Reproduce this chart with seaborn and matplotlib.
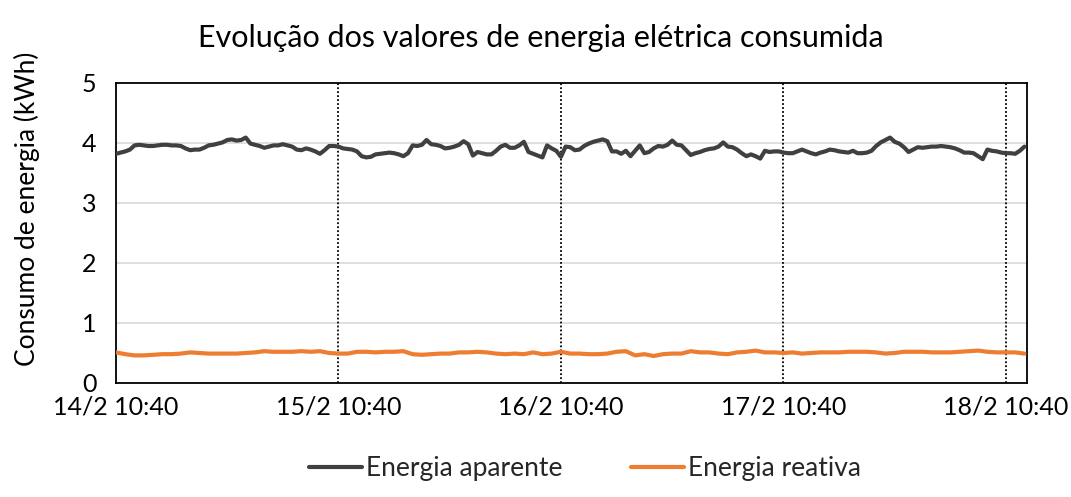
import matplotlib
matplotlib.use("Agg")
import matplotlib.pyplot as plt
import matplotlib.ticker as mticker
import matplotlib.dates as mdates
import seaborn as sns
import pandas as pd

# Leituras de 30 em 30 min (energia aparente) a partir de 14/2 10:40
aparente = [
    3.82, 3.84, 3.86, 3.89, 3.96, 3.97, 3.96, 3.95, 3.95, 3.96,
    3.97, 3.97, 3.96, 3.96, 3.95, 3.91, 3.88, 3.89, 3.89, 3.92,
    3.96, 3.97, 3.99, 4.01, 4.05, 4.06, 4.04, 4.05, 4.09, 3.99,
    3.97, 3.95, 3.92, 3.94, 3.96, 3.96, 3.98, 3.96, 3.94, 3.89,
    3.88, 3.91, 3.89, 3.86, 3.82, 3.88, 3.95, 3.95, 3.94, 3.91,
    3.90, 3.89, 3.86, 3.78, 3.76, 3.77, 3.81, 3.82, 3.83, 3.84,
    3.83, 3.81, 3.78, 3.83, 3.96, 3.95, 3.97, 4.05, 3.98, 3.97,
    3.95, 3.91, 3.92, 3.94, 3.97, 4.03, 3.98, 3.79, 3.85, 3.83,
    3.81, 3.81, 3.87, 3.94, 3.97, 3.92, 3.92, 3.96, 4.02, 3.85,
    3.82, 3.79, 3.76, 3.96, 3.91, 3.87, 3.77, 3.94, 3.93, 3.88,
    3.89, 3.95, 3.99, 4.02, 4.04, 4.06, 4.03, 3.86, 3.86, 3.82,
    3.87, 3.78, 3.87, 3.96, 3.83, 3.85, 3.91, 3.95, 3.94, 3.97,
    4.04, 3.97, 3.96, 3.88, 3.80, 3.83, 3.85, 3.88, 3.90, 3.91,
    3.94, 4.01, 3.94, 3.93, 3.89, 3.83, 3.78, 3.81, 3.78, 3.74,
    3.87, 3.85, 3.86, 3.86, 3.84, 3.83, 3.83, 3.86, 3.89, 3.86,
    3.83, 3.81, 3.84, 3.86, 3.89, 3.88, 3.86, 3.85, 3.84, 3.87,
    3.83, 3.83, 3.84, 3.87, 3.95, 4.01, 4.05, 4.09, 4.02, 3.99,
    3.93, 3.85, 3.89, 3.93, 3.92, 3.93, 3.94, 3.94, 3.95, 3.94,
    3.93, 3.91, 3.88, 3.84, 3.84, 3.83, 3.78, 3.73, 3.89, 3.87,
    3.86, 3.84, 3.83, 3.83, 3.82, 3.87, 3.94,
]

# Leituras de hora a hora (energia reativa)
reativa = [
    0.51, 0.48, 0.46, 0.46, 0.47, 0.48, 0.48, 0.49, 0.51, 0.50,
    0.49, 0.49, 0.49, 0.49, 0.50, 0.51, 0.53, 0.52, 0.52, 0.52,
    0.53, 0.52, 0.53, 0.50, 0.49, 0.49, 0.52, 0.52, 0.51, 0.52,
    0.52, 0.53, 0.48, 0.47, 0.48, 0.49, 0.49, 0.51, 0.51, 0.52,
    0.51, 0.49, 0.48, 0.49, 0.48, 0.51, 0.48, 0.49, 0.52, 0.49,
    0.49, 0.48, 0.48, 0.49, 0.52, 0.53, 0.46, 0.48, 0.45, 0.48,
    0.49, 0.49, 0.53, 0.51, 0.51, 0.49, 0.48, 0.51, 0.52, 0.54,
    0.51, 0.51, 0.50, 0.51, 0.49, 0.50, 0.51, 0.51, 0.51, 0.52,
    0.52, 0.52, 0.51, 0.49, 0.50, 0.52, 0.52, 0.52, 0.51, 0.51,
    0.51, 0.52, 0.53, 0.54, 0.52, 0.51, 0.51, 0.51, 0.49,
]

inicio = pd.Timestamp("2020-02-14 10:40")
t_aparente = pd.date_range(inicio, periods=len(aparente), freq="30min")
t_reativa = pd.date_range(inicio, periods=len(reativa), freq="1h")
dias = pd.date_range(inicio, periods=5, freq="1D")
fim = inicio + pd.Timedelta(minutes=30 * 196.5)

cor_aparente = "#404040"
cor_reativa = "#ED7D31"


def rotulo_data(x, pos):
    d = mdates.num2date(x)
    return f"{d.day}/{d.month} {d:%H:%M}"


def main():
    sns.set_theme(style="white")
    plt.rcParams["font.family"] = ["Lato", "DejaVu Sans"]

    df_ap = pd.DataFrame({"tempo": t_aparente, "valor": aparente})
    df_re = pd.DataFrame({"tempo": t_reativa, "valor": reativa})

    fig = plt.figure(figsize=(10.71, 4.97), dpi=100)
    ax = fig.add_axes([0.1083, 0.2294, 0.8504, 0.6036])

    # grelha horizontal
    for v in [1, 2, 3, 4]:
        ax.axhline(v, color="#D9D9D9", lw=1.2, zorder=0)

    # linhas verticais pontilhadas
    for d in dias[1:]:
        ax.axvline(d, color="black", ls=(0, (1, 1.2)), lw=1.3, zorder=1)

    sns.lineplot(data=df_ap, x="tempo", y="valor", ax=ax, color=cor_aparente,
                 lw=3, label="Energia aparente", zorder=3)
    sns.lineplot(data=df_re, x="tempo", y="valor", ax=ax, color=cor_reativa,
                 lw=3, label="Energia reativa", zorder=3)

    ax.set_xlim(inicio, fim)
    ax.set_ylim(0, 5)
    ax.set_yticks([0, 1, 2, 3, 4, 5])
    ax.set_xticks(dias)
    ax.xaxis.set_major_formatter(mticker.FuncFormatter(rotulo_data))
    ax.tick_params(axis="both", length=0, labelsize=18, colors="black")
    ax.tick_params(axis="x", pad=9)
    ax.tick_params(axis="y", pad=14)

    for s in ax.spines.values():
        s.set_visible(True)
        s.set_color("black")
        s.set_linewidth(1.3)

    ax.set_xlabel("")
    ax.set_ylabel("Consumo de energia (kWh)", fontsize=19, color="black")
    ax.yaxis.set_label_coords(-0.083, 0.58)
    fig.text(0.505, 0.924, "Evolução dos valores de energia elétrica consumida",
             fontsize=22, ha="center", va="center", color="black")

    ax.legend(loc="center", bbox_to_anchor=(0.515, -0.285), ncol=2, frameon=False,
              fontsize=19, handlelength=2.0, columnspacing=2.6, handletextpad=0.15)

    fig.savefig("out.png", dpi=100)


if __name__ == "__main__":
    main()
